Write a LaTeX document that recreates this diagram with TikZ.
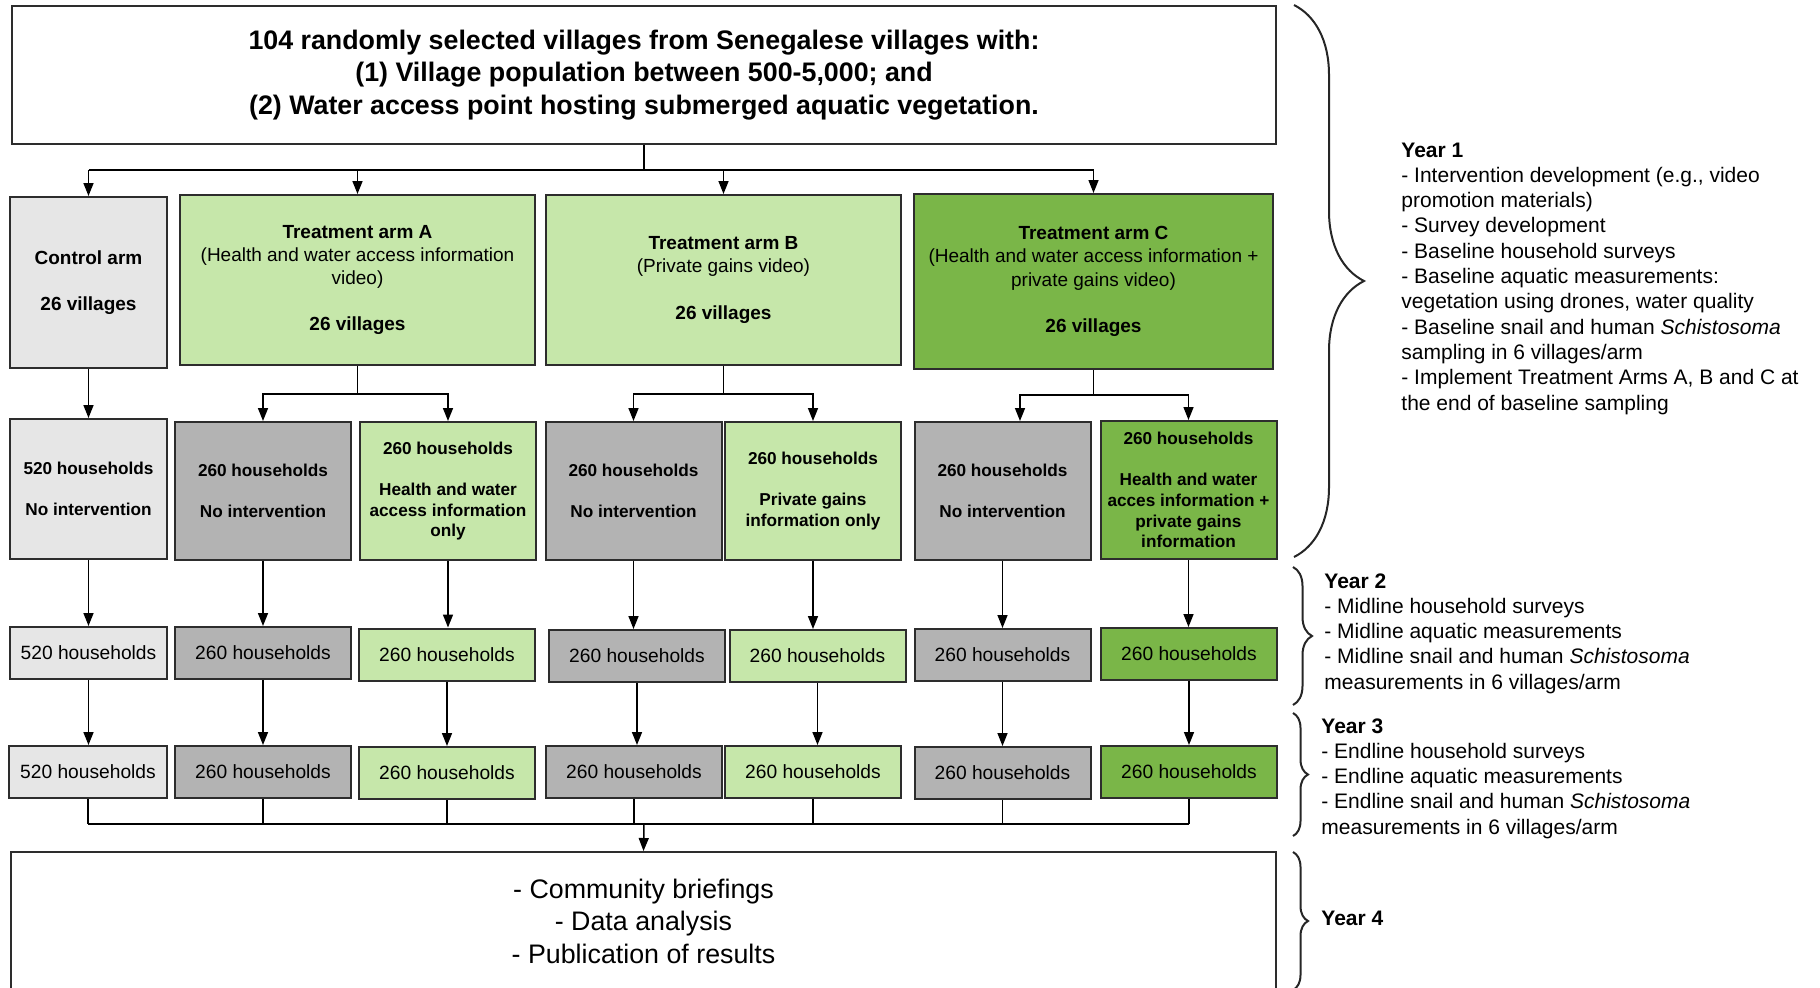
\documentclass[tikz,border=0pt]{standalone}
\usepackage{fontspec}
\setmainfont{Liberation Sans}
\usepackage{xcolor}
\definecolor{ctrlgray}{RGB}{230,230,230}
\definecolor{nogray}{RGB}{179,179,179}
\definecolor{infolight}{RGB}{198,231,170}
\definecolor{infodark}{RGB}{122,182,72}
\definecolor{boxframe}{RGB}{45,45,45}
\usetikzlibrary{arrows.meta, decorations.pathreplacing}

\begin{document}
\begin{tikzpicture}[
  x=0.5pt, y=-0.5pt,
  box/.style={
    draw=boxframe, line width=1pt,
    align=center, inner sep=0pt,
  },
  header/.style={box, minimum width=632pt, minimum height=69pt, font=\fontsize{13.4}{16.25}\selectfont},
  arm/.style={box, minimum height=85pt, font=\fontsize{9.5}{11.6}\selectfont},
  sub/.style={box, minimum width=88pt, minimum height=69pt, font=\fontsize{8.6}{10.3}\selectfont\bfseries},
  hh/.style={box, minimum width=88pt, minimum height=26pt, font=\fontsize{9.6}{11.6}\selectfont},
  link/.style={line width=0.75pt},
  flow/.style={link, -{Triangle[length=6.5pt, width=5pt]}},
  year/.style={decorate, decoration={brace, amplitude=#1}, line width=1pt, draw=black!85},
  yeartext/.style={anchor=west, align=left, inner sep=0pt, font=\fontsize{10.5}{12.65}\selectfont},
]
\useasboundingbox (0,0) rectangle (1820,987);

\node[header, font=\fontsize{13.4}{16.25}\selectfont\bfseries] (top) at (644,75)
  {104 randomly selected villages from Senegalese villages with:\\
   (1) Village population between 500-5,000; and\\
   (2) Water access point hosting submerged aquatic vegetation.};

\node[arm, fill=ctrlgray, minimum width=78.5pt, minimum height=85.5pt] (ctl2) at (88.5,282.5)
  {\textbf{Control arm}\\[11.6pt] \textbf{26 villages}};
\node[arm, fill=infolight, minimum width=177.5pt] (a2) at (357.5,280)
  {\textbf{Treatment arm A}\\ (Health and water access information\\ video)\\[11.6pt] \textbf{26 villages}};
\node[arm, fill=infolight, minimum width=177.5pt] (b2) at (723.5,280)
  {\textbf{Treatment arm B}\\ (Private gains video)\\[11.6pt] \textbf{26 villages}};
\node[arm, fill=infodark, minimum width=179.5pt, minimum height=87.5pt] (c2) at (1093.5,281.5)
  {\textbf{Treatment arm C}\\ (Health and water access information +\\ private gains video)\\[11.6pt] \textbf{26 villages}};

\node[sub, fill=ctrlgray, minimum width=78.5pt, minimum height=70pt] (ctl3) at (88.5,489) {520 households\\[10.3pt] No intervention};
\node[sub, fill=nogray]    (ano3) at (263,491)    {260 households\\[10.3pt] No intervention};
\node[sub, fill=infolight] (ain3) at (448,491)    {260 households\\[10.3pt] Health and water\\ access information\\ only};
\node[sub, fill=nogray]    (bno3) at (633.5,491)  {260 households\\[10.3pt] No intervention};
\node[sub, fill=infolight] (bin3) at (813,491)    {260 households\\[10.3pt] Private gains\\ information only};
\node[sub, fill=nogray]    (cno3) at (1002.5,491) {260 households\\[10.3pt] No intervention};
\node[sub, fill=infodark]  (cin3) at (1188.5,490) {260 households\\[10.3pt] Health and water\\ acces information +\\ private gains\\ information};

\node[hh, fill=ctrlgray, minimum width=78.5pt] (ctl4) at (88.5,653) {520 households};
\node[hh, fill=nogray]    (ano4) at (263,653)    {260 households};
\node[hh, fill=infolight] (ain4) at (447,654.5)  {260 households};
\node[hh, fill=nogray]    (bno4) at (637,656)    {260 households};
\node[hh, fill=infolight] (bin4) at (817.5,656)  {260 households};
\node[hh, fill=nogray]    (cno4) at (1002.5,655) {260 households};
\node[hh, fill=infodark]  (cin4) at (1189,654)   {260 households};

\node[hh, fill=ctrlgray, minimum width=79pt] (ctl5) at (88,772) {520 households};
\node[hh, fill=nogray]    (ano5) at (263,772)    {260 households};
\node[hh, fill=infolight] (ain5) at (447,773)    {260 households};
\node[hh, fill=nogray]    (bno5) at (634,772)    {260 households};
\node[hh, fill=infolight] (bin5) at (813,772)    {260 households};
\node[hh, fill=nogray]    (cno5) at (1002.5,773) {260 households};
\node[hh, fill=infodark]  (cin5) at (1189,772)   {260 households};

\node[header, minimum width=632.5pt] (fin) at (643.5,921)
  {- Community briefings\\ - Data analysis\\ - Publication of results};

\coordinate (fork) at (644,170);
\coordinate (merge) at (644,824);

\draw[link] (top.south) -- (fork);
\draw[link] (ctl2.north |- fork) -- (c2.north |- fork);
\foreach \n in {ctl2,a2,b2,c2}
  \draw[flow] (\n.north |- fork) -- (\n.north);

\draw[flow] (ctl2.south) -- (ctl3.north);
\draw[link] (a2.south) -- ++(0,28) coordinate (forkA);
\draw[flow] (forkA) -| (ano3.north);
\draw[flow] (forkA) -| (ain3.north);
\draw[link] (b2.south) -- ++(0,28) coordinate (forkB);
\draw[flow] (forkB) -| (bno3.north);
\draw[flow] (forkB) -| (bin3.north);
\draw[link] (c2.south) -- ++(0,25) coordinate (forkC);
\draw[flow] (forkC) -| ([xshift=8.75pt]cno3.north);
\draw[flow] (forkC) -| (cin3.north);

\foreach \n in {ctl,ano,ain,bno,bin,cno,cin} {
  \draw[flow] (\n3.south) -- (\n3.south |- \n4.north);
  \draw[flow] (\n4.south) -- (\n4.south |- \n5.north);
  \draw[link] (\n5.south) -- (\n5.south |- merge);
}
\draw[link] (ctl5.south |- merge) -- (cin5.south |- merge);
\draw[flow] (merge) -- (fin.north);

\draw[year=35pt]  (1294,5)   -- (1294,557);
\draw[year=9.5pt] (1293,567) -- (1293,705);
\draw[year=7.5pt] (1293,713) -- (1293,836);
\draw[year=7.5pt] (1293,852) -- (1293,990);

\node[yeartext] (y1) at (1401,278.5)
  {\textbf{Year 1}\\
   - Intervention development (e.g., video\\
   promotion materials)\\
   - Survey development\\
   - Baseline household surveys\\
   - Baseline aquatic measurements:\\
   vegetation using drones, water quality\\
   - Baseline snail and human \textit{Schistosoma}\\
   sampling in 6 villages/arm\\
   - Implement Treatment Arms A, B and C at\\
   the end of baseline sampling};
\node[yeartext] (y2) at (1324,633.5)
  {\textbf{Year 2}\\
   - Midline household surveys\\
   - Midline aquatic measurements\\
   - Midline snail and human \textit{Schistosoma}\\
   measurements in 6 villages/arm};
\node[yeartext] (y3) at (1321,778.5)
  {\textbf{Year 3}\\
   - Endline household surveys\\
   - Endline aquatic measurements\\
   - Endline snail and human \textit{Schistosoma}\\
   measurements in 6 villages/arm};
\node[yeartext] (y4) at (1321,918) {\textbf{Year 4}};
\end{tikzpicture}
\end{document}
